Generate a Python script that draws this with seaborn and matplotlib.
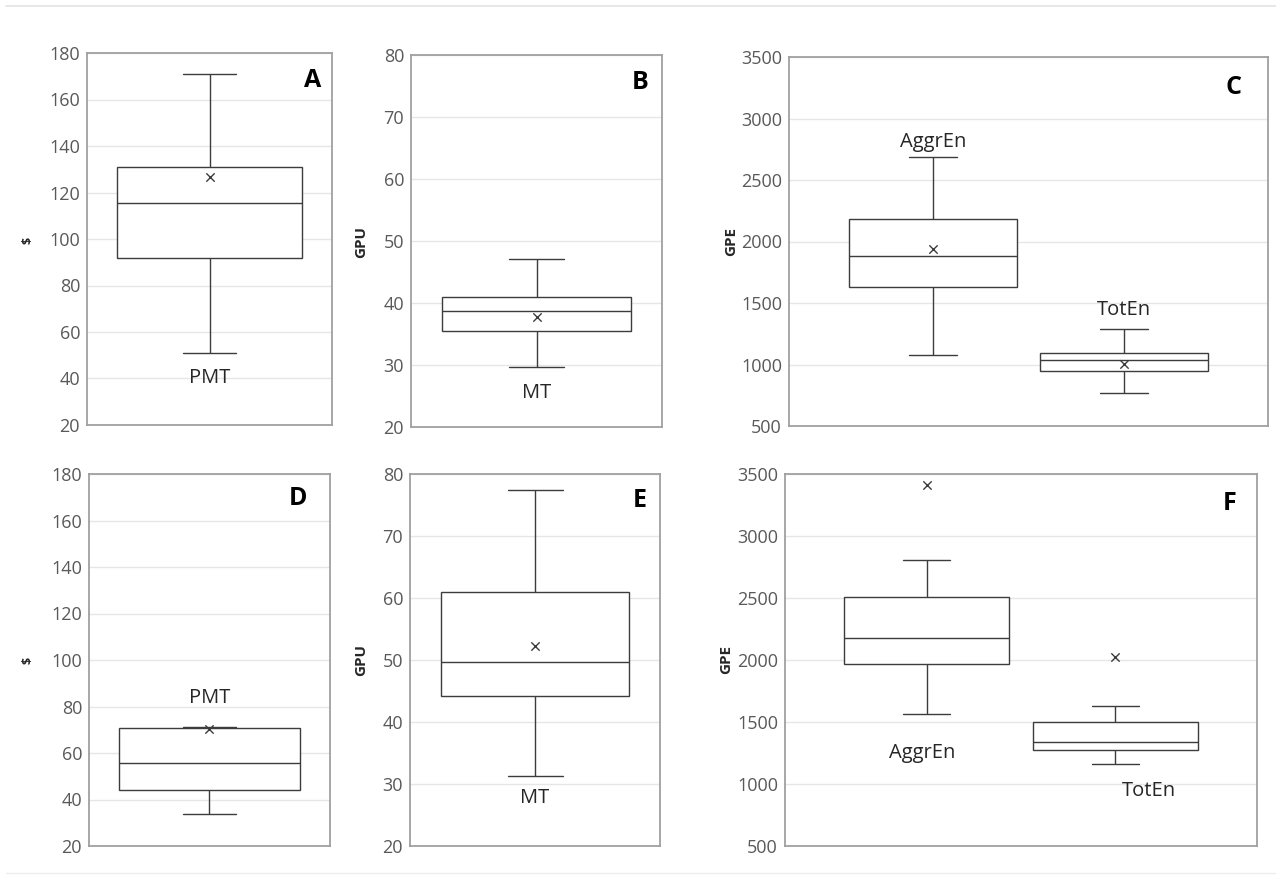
import numpy as np
import pandas as pd
import matplotlib
matplotlib.use("Agg")
import matplotlib.pyplot as plt
import seaborn as sns
from matplotlib.lines import Line2D

# Five-number summaries: [whisker low, Q1, median, Q3, whisker high]
pmt_top = [50.8, 92.0, 115.3, 131.0, 171.0]
mt_top = [29.6, 35.5, 38.7, 40.9, 47.1]
aggr_top = [1077, 1632, 1886, 2179, 2688]
tot_top = [765, 949, 1039, 1093, 1288]
pmt_bot = [33.8, 44.0, 55.6, 70.6, 71.3]
mt_bot = [31.3, 44.2, 49.7, 61.0, 77.5]
aggr_bot = [1565, 1970, 2177, 2512, 2808]
tot_bot = [1165, 1272, 1337, 1498, 1632]

# Means (x markers): [top row, bottom row]
mean_pmt = [126.8, 70.5]
mean_mt = [37.8, 52.2]
mean_aggr = [1940, 3411]
mean_tot = [1006, 2024]

series_names = ["AggrEn", "TotEn"]
panel_letters = ["A", "B", "C", "D", "E", "F"]
y_titles = ["$", "GPU", "GPE"]

ticks_s = list(range(20, 181, 20))
ticks_gpu = list(range(20, 81, 10))
ticks_gpe = list(range(500, 3501, 500))

sns.set_theme(style="white")
FONT = ["Open Sans", "DejaVu Sans"]
plt.rcParams["font.family"] = FONT

LC = "#3c3c3c"
TICKC = "#595959"
W, H = 1276, 877
fig = plt.figure(figsize=(W / 100, H / 100), dpi=100)
fig.patch.set_facecolor("white")


def add_ax(left, right, top, bottom):
    return fig.add_axes([left / W, 1 - bottom / H, (right - left) / W, (bottom - top) / H])


def style(ax, ticks):
    ax.set_xlim(-0.5, 0.5)
    ax.set_ylim(ticks[0], ticks[-1])
    ax.set_yticks(ticks)
    ax.set_xticks([])
    ax.set_xlabel("")
    ax.set_ylabel("")
    ax.set_axisbelow(True)
    ax.yaxis.grid(True, color="#e6e6e6", linewidth=1.0)
    ax.xaxis.grid(False)
    for sp in ax.spines.values():
        sp.set_visible(True)
        sp.set_color("#a0a0a0")
        sp.set_linewidth(1.3)
    ax.tick_params(axis="y", length=0, pad=5, labelsize=13, labelcolor=TICKC)
    for t in ax.get_yticklabels():
        t.set_fontfamily(FONT)


def single(ax, vals, mean):
    df = pd.DataFrame({"g": ["g"] * len(vals), "v": vals})
    sns.boxplot(data=df, x="g", y="v", ax=ax, width=0.755, whis=(0, 100),
                color="white", linecolor=LC, linewidth=1.0, saturation=1,
                capwidths=0.22, showfliers=False)
    mdf = pd.DataFrame({"g": ["g"], "v": [mean]})
    sns.stripplot(data=mdf, x="g", y="v", ax=ax, jitter=False, marker="x",
                  color=LC, edgecolor=LC, linewidth=1.0, size=6)


def double(ax, a_vals, t_vals, a_mean, t_mean):
    df = pd.DataFrame({"g": ["g"] * (len(a_vals) + len(t_vals)),
                       "s": [series_names[0]] * len(a_vals) + [series_names[1]] * len(t_vals),
                       "v": a_vals + t_vals})
    sns.boxplot(data=df, x="g", y="v", hue="s", hue_order=series_names, ax=ax,
                width=0.8, gap=0.125, whis=(0, 100), palette=["white", "white"],
                linecolor=LC, linewidth=1.0, saturation=1, capwidths=0.10,
                showfliers=False, legend=False)
    mdf = pd.DataFrame({"g": ["g", "g"], "s": series_names, "v": [a_mean, t_mean]})
    sns.stripplot(data=mdf, x="g", y="v", hue="s", hue_order=series_names, ax=ax,
                  dodge=True, jitter=False, marker="x", palette=[LC, LC],
                  edgecolor=LC, linewidth=1.0, size=6, legend=False)


axA = add_ax(87, 332, 53, 425)
axB = add_ax(411, 662, 55, 427)
axC = add_ax(789, 1268, 57, 426)
axD = add_ax(89, 330, 474, 846)
axE = add_ax(410, 660, 474, 846)
axF = add_ax(785, 1257, 474, 846)

single(axA, pmt_top, mean_pmt[0])
single(axB, mt_top, mean_mt[0])
double(axC, aggr_top, tot_top, mean_aggr[0], mean_tot[0])
single(axD, pmt_bot, mean_pmt[1])
single(axE, mt_bot, mean_mt[1])
double(axF, aggr_bot, tot_bot, mean_aggr[1], mean_tot[1])

for ax, tk in [(axA, ticks_s), (axB, ticks_gpu), (axC, ticks_gpe),
               (axD, ticks_s), (axE, ticks_gpu), (axF, ticks_gpe)]:
    style(ax, tk)

# category labels
lab_kw = dict(ha="center", va="center", fontsize=14.5, color="#262626", family=FONT)
axA.text(0.0, 40, "PMT", **lab_kw)
axB.text(0.0, 25.5, "MT", **lab_kw)
axC.text(-0.2, 2812, series_names[0], **lab_kw)
axC.text(0.2, 1446, series_names[1], **lab_kw)
axD.text(0.0, 83.6, "PMT", **lab_kw)
axE.text(0.0, 27.8, "MT", **lab_kw)
axF.text(-0.21, 1254, series_names[0], **lab_kw)
axF.text(0.27, 943, series_names[1], **lab_kw)

# panel letters
letter_pos = [(axA, 0.922, 0.927), (axB, 0.912, 0.927), (axC, 0.927, 0.916),
              (axD, 0.867, 0.935), (axE, 0.92, 0.93), (axF, 0.943, 0.922)]
for (ax, x, y), letter in zip(letter_pos, panel_letters):
    ax.text(x, y, letter, transform=ax.transAxes, ha="center", va="center",
            fontsize=18, fontweight="bold", color="black", family=FONT)

# y-axis titles
ytxt = dict(ha="center", va="center", rotation=90, fontweight="bold",
            color="#262626", family=FONT)
fig.text(28 / W, 1 - 240 / H, y_titles[0], fontsize=9, **ytxt)
fig.text(361 / W, 1 - 242 / H, y_titles[1], fontsize=11, **ytxt)
fig.text(731 / W, 1 - 242 / H, y_titles[2], fontsize=11, **ytxt)
fig.text(28 / W, 1 - 660 / H, y_titles[0], fontsize=9, **ytxt)
fig.text(361 / W, 1 - 660 / H, y_titles[1], fontsize=11, **ytxt)
fig.text(726 / W, 1 - 660 / H, y_titles[2], fontsize=11, **ytxt)

# thin separator lines at top and bottom
fig.add_artist(Line2D([6 / W, 1.0], [1 - 6 / H, 1 - 6 / H], color="#e3e3e3", linewidth=1.2))
fig.add_artist(Line2D([6 / W, 1.0], [1 - 873 / H, 1 - 873 / H], color="#ededed", linewidth=1.0))

fig.savefig("out.png", dpi=100, facecolor="white")
